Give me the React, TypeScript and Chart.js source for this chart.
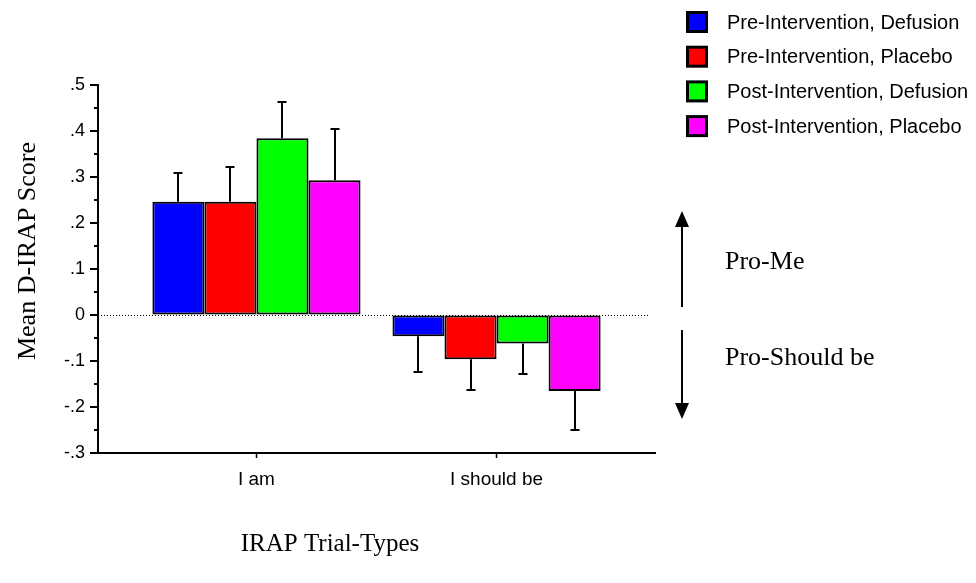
import React, { useEffect, useRef } from "react";
import { Chart, registerables } from "chart.js";

Chart.register(...registerables);

const categories = ["I am", "I should be"];
const seriesNames = [
  "Pre-Intervention, Defusion",
  "Pre-Intervention, Placebo",
  "Post-Intervention, Defusion",
  "Post-Intervention, Placebo",
];
const seriesColors = ["#0000ff", "#ff0000", "#00ff00", "#ff00ff"];
const preDefusion = [0.246, -0.046];
const prePlacebo = [0.246, -0.096];
const postDefusion = [0.384, -0.062];
const postPlacebo = [0.293, -0.165];
const preDefusionErr = [0.063, 0.078];
const prePlaceboErr = [0.076, 0.066];
const postDefusionErr = [0.079, 0.067];
const postPlaceboErr = [0.112, 0.084];
const yMin = -0.3;
const yMax = 0.5;
const yStep = 0.05;
const yTitle = "Mean D-IRAP Score";
const xTitle = "IRAP Trial-Types";
const upLabel = "Pro-Me";
const downLabel = "Pro-Should be";

const seriesValues = [preDefusion, prePlacebo, postDefusion, postPlacebo];
const seriesErrors = [preDefusionErr, prePlaceboErr, postDefusionErr, postPlaceboErr];

const SANS = "'Liberation Sans', Arial, sans-serif";
const SERIF = "'Liberation Serif', 'Times New Roman', serif";

const isMajor = (v: number) => Math.abs(v * 10 - Math.round(v * 10)) < 1e-6;
const fmt = (v: number) => {
  const r = Math.round(v * 10) / 10;
  if (r === 0) return "0";
  return r.toFixed(1).replace("0.", ".");
};

const decorPlugin = {
  id: "decor",
  beforeDatasetsDraw(chart: any) {
    const ctx = chart.ctx;
    const y = chart.scales.y;
    const area = chart.chartArea;
    const y0 = Math.round(y.getPixelForValue(0)) + 0.5;
    ctx.save();
    ctx.strokeStyle = "#000";
    ctx.lineWidth = 1;
    ctx.setLineDash([1, 2]);
    ctx.beginPath();
    ctx.moveTo(area.left, y0);
    ctx.lineTo(area.right - 5, y0);
    ctx.stroke();
    ctx.restore();
  },
  afterDatasetsDraw(chart: any) {
    const ctx = chart.ctx;
    const y = chart.scales.y;
    ctx.save();
    ctx.strokeStyle = "#000";
    ctx.lineWidth = 2;
    chart.data.datasets.forEach((ds: any, di: number) => {
      const meta = chart.getDatasetMeta(di);
      meta.data.forEach((bar: any, i: number) => {
        const v = seriesValues[di][i];
        const e = seriesErrors[di][i];
        const end = v >= 0 ? v + e : v - e;
        const py = Math.round(y.getPixelForValue(end));
        const x = Math.round(bar.x);
        ctx.beginPath();
        ctx.moveTo(x, bar.y);
        ctx.lineTo(x, py);
        ctx.moveTo(x - 4.5, py);
        ctx.lineTo(x + 4.5, py);
        ctx.stroke();
      });
    });
    ctx.restore();
  },
  afterDraw(chart: any) {
    const ctx = chart.ctx;
    const y = chart.scales.y;
    const area = chart.chartArea;
    ctx.save();
    // y tick marks
    ctx.strokeStyle = "#000";
    ctx.lineWidth = 2;
    y.ticks.forEach((t: any) => {
      const py = Math.round(y.getPixelForValue(t.value));
      const len = isMajor(t.value) ? 8 : 4;
      ctx.beginPath();
      ctx.moveTo(area.left - len, py);
      ctx.lineTo(area.left, py);
      ctx.stroke();
    });
    // legend
    ctx.font = `20px ${SANS}`;
    ctx.textBaseline = "middle";
    ctx.textAlign = "left";
    seriesNames.forEach((name, i) => {
      const cy = 22 + i * 34.7;
      ctx.fillStyle = "#000";
      ctx.fillRect(686, cy - 11, 22, 22);
      ctx.fillStyle = seriesColors[i];
      ctx.fillRect(689, cy - 8, 16, 16);
      ctx.fillStyle = "#000";
      ctx.fillText(name, 727, cy + 1);
    });
    // arrows
    const ax = 682;
    ctx.lineWidth = 2;
    ctx.beginPath();
    ctx.moveTo(ax, 307);
    ctx.lineTo(ax, 222);
    ctx.moveTo(ax, 330);
    ctx.lineTo(ax, 408);
    ctx.stroke();
    ctx.beginPath();
    ctx.moveTo(ax, 211);
    ctx.lineTo(ax - 7, 227);
    ctx.lineTo(ax + 7, 227);
    ctx.closePath();
    ctx.fill();
    ctx.beginPath();
    ctx.moveTo(ax, 419);
    ctx.lineTo(ax - 7, 403);
    ctx.lineTo(ax + 7, 403);
    ctx.closePath();
    ctx.fill();
    // side labels
    ctx.font = `26px ${SERIF}`;
    ctx.textBaseline = "alphabetic";
    ctx.fillText(upLabel, 725, 269);
    ctx.fillText(downLabel, 725, 365);
    // axis titles
    ctx.textAlign = "center";
    ctx.font = `25px ${SERIF}`;
    ctx.fillText(xTitle, 330, 551);
    ctx.font = `26px ${SERIF}`;
    ctx.save();
    ctx.translate(35, 251);
    ctx.rotate(-Math.PI / 2);
    ctx.fillText(yTitle, 0, 0);
    ctx.restore();
    ctx.restore();
  },
};

export default function App() {
  const ref = useRef<HTMLCanvasElement | null>(null);
  useEffect(() => {
    document.body.style.margin = "0";
    const canvas = ref.current;
    if (!canvas) return;
    const chart = new Chart(canvas, {
      type: "bar",
      data: {
        datasets: seriesNames.map((name, di) => ({
          label: name,
          data: seriesValues[di].map((v, i) => ({ x: i, y: v })),
          backgroundColor: seriesColors[di],
          borderColor: "#000",
          borderWidth: 2,
          borderSkipped: false,
          categoryPercentage: 0.867,
          barPercentage: 1,
        })),
      },
      options: {
        responsive: false,
        animation: false,
        devicePixelRatio: 1,
        layout: { padding: { left: 0, top: 85, right: 321, bottom: 0 } },
        plugins: { legend: { display: false }, tooltip: { enabled: false } },
        scales: {
          x: {
            type: "linear",
            min: -0.66,
            max: 1.66,
            offset: false,
            afterFit: (s: any) => {
              s.height = 130;
            },
            afterBuildTicks: (s: any) => {
              s.ticks = categories.map((_, i) => ({ value: i }));
            },
            grid: {
              display: true,
              offset: false,
              drawOnChartArea: false,
              drawTicks: true,
              tickLength: 5,
              tickWidth: 1.5,
              tickColor: "#000",
            },
            border: { display: true, color: "#000", width: 2 },
            ticks: {
              callback: (v: any) => categories[Math.round(Number(v))] ?? "",
              color: "#000",
              font: { family: SANS, size: 19 },
              padding: 10,
              maxRotation: 0,
              autoSkip: false,
            },
          },
          y: {
            min: yMin,
            max: yMax,
            afterFit: (s: any) => {
              s.width = 98;
            },
            grid: { display: true, drawOnChartArea: false, drawTicks: false },
            border: { display: true, color: "#000", width: 2 },
            ticks: {
              stepSize: yStep,
              autoSkip: false,
              callback: (v: any) => (isMajor(Number(v)) ? fmt(Number(v)) : ""),
              color: "#000",
              font: { family: SANS, size: 18 },
              padding: 13,
            },
          },
        },
      },
      plugins: [decorPlugin],
    } as any);
    return () => chart.destroy();
  }, []);
  return (
    <div style={{ width: 976, height: 583, position: "relative" }}>
      <canvas ref={ref} width={976} height={583} style={{ display: "block" }} />
    </div>
  );
}
